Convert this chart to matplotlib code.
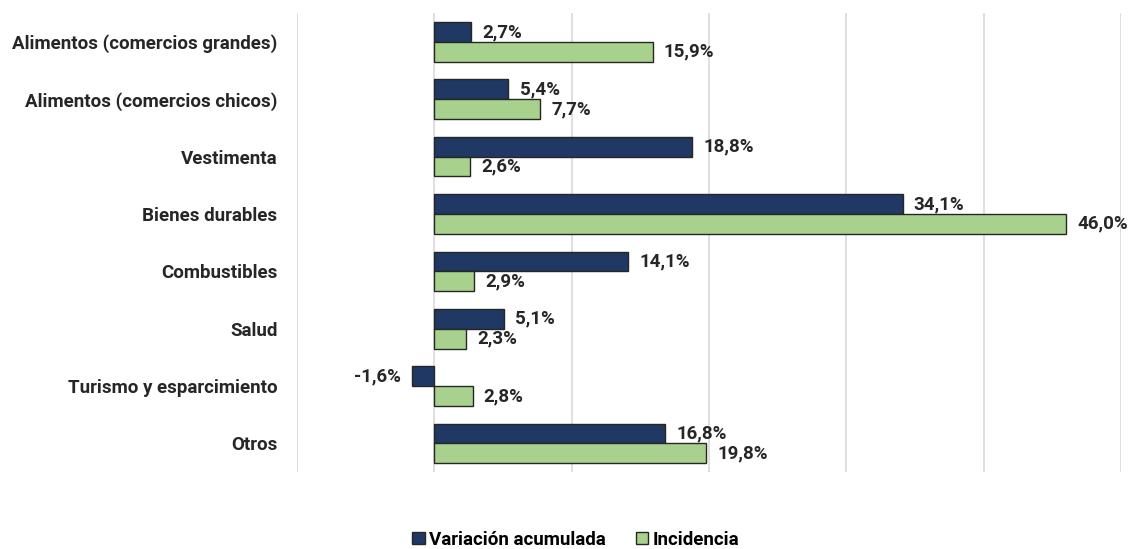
import matplotlib
matplotlib.use("Agg")
import matplotlib.pyplot as plt
import numpy as np

categorias = [
    "Alimentos (comercios grandes)",
    "Alimentos (comercios chicos)",
    "Vestimenta",
    "Bienes durables",
    "Combustibles",
    "Salud",
    "Turismo y esparcimiento",
    "Otros",
]
variacion = [2.7, 5.4, 18.8, 34.1, 14.1, 5.1, -1.6, 16.8]
incidencia = [15.9, 7.7, 2.6, 46.0, 2.9, 2.3, 2.8, 19.8]

AZUL = "#1F3864"
VERDE = "#A9D18E"
BORDE = "#262626"
FS = 13.5

plt.rcParams['font.family'] = ['Roboto', 'DejaVu Sans']

fig = plt.figure(figsize=(11.36, 5.49), dpi=100)
ax = fig.add_axes([0.2614, 0.140, 0.7254, 0.836])

y = np.arange(len(categorias))
h = 0.345

b1 = ax.barh(y - h / 2, variacion, height=h, color=AZUL, edgecolor=BORDE,
             linewidth=1, label="Variación acumulada", zorder=3)
b2 = ax.barh(y + h / 2, incidencia, height=h, color=VERDE, edgecolor=BORDE,
             linewidth=1, label="Incidencia", zorder=3)

def etiquetar(barras, valores):
    for rect, v in zip(barras, valores):
        yc = rect.get_y() + rect.get_height() / 2
        txt = f"{v:.1f}%".replace(".", ",")
        off, ha = (8, "left") if v >= 0 else (-8, "right")
        ax.annotate(txt, (v, yc), xytext=(off, 0), textcoords="offset points",
                    ha=ha, va="center", fontsize=FS, fontweight="bold",
                    color="#262626")

etiquetar(b1, variacion)
etiquetar(b2, incidencia)

ax.set_xlim(-10, 50)
ax.set_ylim(len(categorias) - 0.5, -0.5)
ax.set_xticks(np.arange(-10, 51, 10))
ax.set_xticklabels([])
ax.tick_params(axis="x", length=0)
ax.tick_params(axis="y", length=0, pad=14)
ax.set_yticks(y)
ax.set_yticklabels(categorias, fontsize=FS, fontweight="bold", color="#262626")
ax.grid(axis="x", color="#D9D9D9", linewidth=1.2, zorder=0)
for s in ax.spines.values():
    s.set_visible(False)

fig.legend(handles=[b1, b2], loc="lower center", bbox_to_anchor=(0.507, -0.03),
           ncol=2, frameon=False, handlelength=0.65, handleheight=0.65,
           handletextpad=0.25, columnspacing=1.6,
           prop={"weight": "bold", "size": FS})

fig.savefig("out.png", dpi=100)
